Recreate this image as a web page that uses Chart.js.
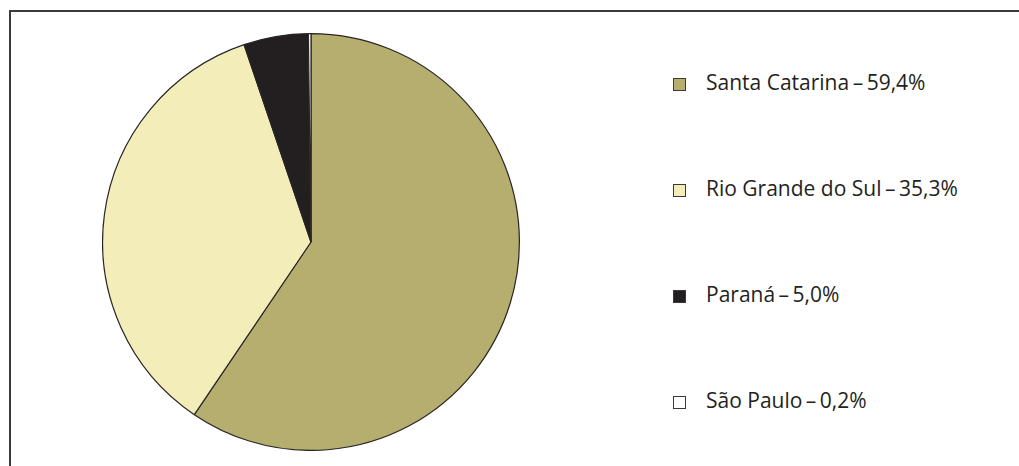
<!DOCTYPE html>
<html>
<head>
<meta charset="utf-8">
<script src="https://cdn.jsdelivr.net/npm/chart.js@4/dist/chart.umd.min.js"></script>
<style>
  html, body { margin: 0; padding: 0; background: #fff; }
  body { width: 1019px; height: 466px; position: relative; overflow: hidden; }
  #frame {
    position: absolute; left: 9px; top: 10px; width: 1100px; height: 600px;
    border-left: 2px solid #3b3b3b; border-top: 2px solid #3b3b3b;
  }
  #pieBox { position: absolute; left: 102px; top: 33px; width: 418px; height: 418px; }
  .item {
    position: absolute; left: 673px; height: 14px;
    font-family: "Open Sans", sans-serif; font-size: 21px; color: #231f20;
    white-space: nowrap;
  }
  .item .sw {
    position: absolute; left: 0; top: 0; width: 11px; height: 11px;
    border: 1px solid #3a3a3a;
  }
  .item .tx { position: absolute; left: 33px; top: -8px; line-height: 24px; }
</style>
</head>
<body>
<div id="frame"></div>
<div id="pieBox"><canvas id="pie"></canvas></div>
<div id="legend"></div>
<script>
// DATA
const states = ["Santa Catarina", "Rio Grande do Sul", "Paraná", "São Paulo"];
const shares = [59.4, 35.3, 5.0, 0.2];
const shareLabels = ["59,4%", "35,3%", "5,0%", "0,2%"];
const colors = ["#b5ae6f", "#f3eeb9", "#231f20", "#ffffff"];

// 📊 PIE
new Chart(document.getElementById("pie"), {
  type: "pie",
  data: {
    labels: states,
    datasets: [{
      data: shares,
      backgroundColor: colors,
      borderColor: "#2a2626",
      borderWidth: 1.2,
    }],
  },
  options: {
    responsive: true,
    maintainAspectRatio: false,
    animation: false,
    layout: { padding: 0 },
    plugins: { legend: { display: false }, tooltip: { enabled: false } },
  },
});

// LEGEND
const legend = document.getElementById("legend");
states.forEach((s, i) => {
  const el = document.createElement("div");
  el.className = "item";
  el.style.top = 78 + i * 106 + "px";
  el.innerHTML =
    `<span class="sw" style="background:${colors[i]}"></span>` +
    `<span class="tx">${s}\u2009–\u2009${shareLabels[i]}</span>`;
  legend.appendChild(el);
});
</script>
</body>
</html>
